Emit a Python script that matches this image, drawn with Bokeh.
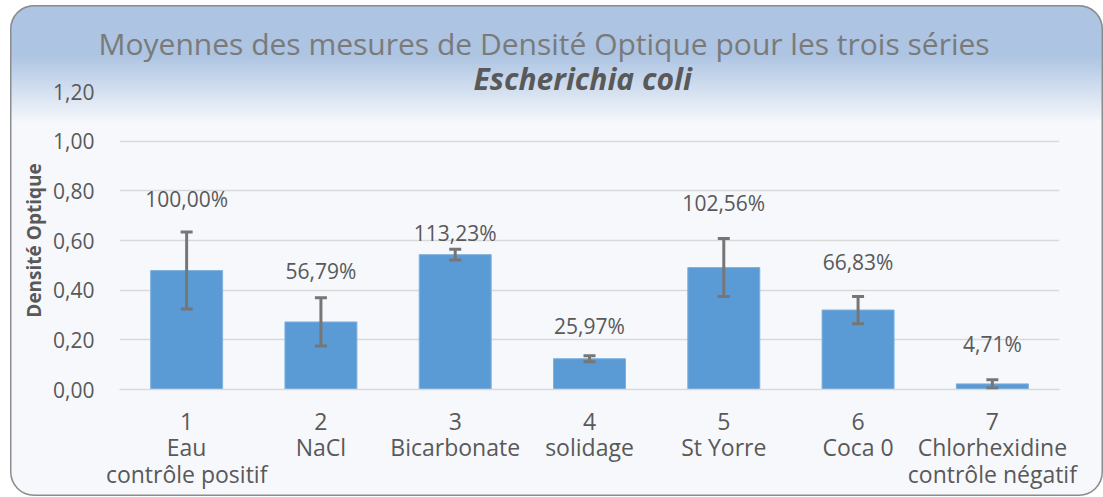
from bokeh.plotting import figure
from bokeh.models import (Range1d, FixedTicker, Title, Whisker,
                          ColumnDataSource, CustomJSTickFormatter, TeeHead)
from bokeh.core.properties import value
from bokeh.embed import file_html
from bokeh.resources import INLINE

# ---- data ----
categories = ["1\nEau\ncontrôle positif", "2\nNaCl", "3\nBicarbonate", "4\nsolidage",
              "5\nSt Yorre", "6\nCoca 0", "7\nChlorhexidine\ncontrôle négatif"]
means = [0.479, 0.272, 0.543, 0.124, 0.491, 0.320, 0.0226]
errors = [0.155, 0.097, 0.022, 0.012, 0.117, 0.055, 0.017]
pct_labels = ["100,00%", "56,79%", "113,23%", "25,97%", "102,56%", "66,83%", "4,71%"]
y_ticks = [0.0, 0.2, 0.4, 0.6, 0.8, 1.0, 1.2]
title_text = "Moyennes des mesures de Densité Optique pour les trois séries"
subtitle_text = "Escherichia coli"

# ---- layout ----
W, H = 1093, 491
FL, FR, FT, FB_ = 109, 44, 86, 107

FONT = "Open Sans"
TXT = "#595959"

xs = list(range(1, len(means) + 1))

p = figure(width=W, height=H, x_range=Range1d(0.5, 7.5), y_range=Range1d(0, 1.2),
           output_backend="svg", toolbar_location=None, title=None,
           margin=(5, 0, 0, 10),
           min_border_left=FL, min_border_right=FR, min_border_top=FT, min_border_bottom=FB_)
p.border_fill_color = None
p.background_fill_color = None
p.outline_line_color = None
p.styles = {
    "background": "linear-gradient(to bottom, #adc4e2 0px, #adc4e2 50px, #f6f8fc 118px, #f6f8fc 100%)",
    "border-radius": "24px",
    "box-shadow": "inset 0 0 0 1.5px #8c8c8c",
}

# ---- bars ----
p.vbar(x=xs, top=means, width=0.536, fill_color="#5B9BD5", line_color="#7fb0dd", line_width=1)

src = ColumnDataSource(dict(x=xs,
                            upper=[m + e for m, e in zip(means, errors)],
                            lower=[m - e for m, e in zip(means, errors)]))
err_col = "#767676"
wh = Whisker(base="x", upper="upper", lower="lower", source=src, line_color=err_col,
             line_width=3, level="annotation",
             upper_head=TeeHead(size=12, line_color=err_col, line_width=3),
             lower_head=TeeHead(size=12, line_color=err_col, line_width=3))
p.add_layout(wh)

label_offsets = [0.133, 0.110, 0.067, 0.120, 0.143, 0.140, 0.145]
ly = [m + e + o for m, e, o in zip(means, errors, label_offsets)]
p.text(x=xs, y=ly, text=pct_labels, text_font=value(FONT), text_font_size="21px",
       text_color=TXT, text_align="center", text_baseline="middle")

# ---- axes ----
p.xaxis.ticker = FixedTicker(ticks=xs)
p.xaxis.major_label_overrides = {x: c for x, c in zip(xs, categories)}
p.xaxis.major_label_text_font = FONT
p.xaxis.major_label_text_font_size = "23px"
p.xaxis.major_label_text_color = TXT
p.xaxis.major_label_text_line_height = 0.83
p.xaxis.major_label_standoff = 15
p.xaxis.major_tick_out = 0
p.xaxis.major_tick_in = 0
p.xaxis.major_tick_line_color = None
p.xaxis.minor_tick_line_color = None
p.xaxis.axis_line_color = "#d9d9d9"
p.xaxis.axis_line_width = 1.5

p.yaxis.ticker = FixedTicker(ticks=y_ticks)
p.yaxis.formatter = CustomJSTickFormatter(code="return tick.toFixed(2).replace('.', ',');")
p.yaxis.major_label_text_font = FONT
p.yaxis.major_label_text_font_size = "21px"
p.yaxis.major_label_text_color = TXT
p.yaxis.major_label_standoff = 25
p.yaxis.major_tick_out = 0
p.yaxis.major_tick_in = 0
p.yaxis.major_tick_line_color = None
p.yaxis.minor_tick_line_color = None
p.yaxis.axis_line_color = None
p.yaxis.axis_label = "Densité Optique"
p.yaxis.axis_label_text_font = FONT
p.yaxis.axis_label_text_font_size = "19px"
p.yaxis.axis_label_text_font_style = "bold"
p.yaxis.axis_label_text_color = TXT
p.yaxis.axis_label_standoff = 3

p.xgrid.grid_line_color = None
p.ygrid.grid_line_color = "#d9d9d9"
p.ygrid.grid_line_width = 1.5

# ---- titles (inner first) ----
p.add_layout(Title(text=subtitle_text, text_font=FONT, text_font_size="30px",
                   text_font_style="bold italic", text_color=TXT,
                   align="left", offset=354, standoff=-14), "above")
p.add_layout(Title(text=title_text, text_font=FONT, text_font_size="30px",
                   text_font_style="normal", text_color="#7a7a7a",
                   align="left", offset=-21, standoff=-2), "above")

open("out.html", "w").write(file_html(p, INLINE))
